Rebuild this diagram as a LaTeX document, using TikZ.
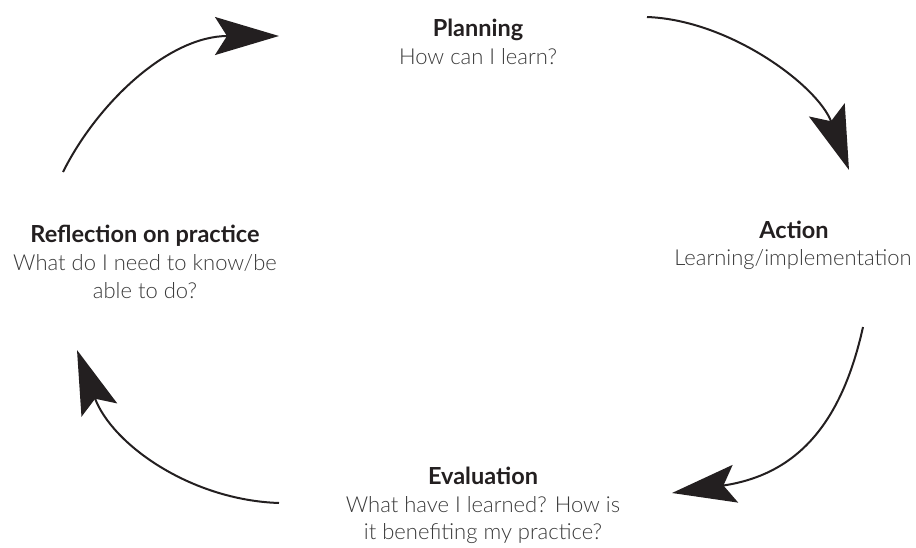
\documentclass[tikz,border=0pt]{standalone}
\usepackage{fontspec}
\setmainfont{Lato}
\newfontfamily\bodyfont{Lato Light}
\usetikzlibrary{arrows.meta}
\definecolor{ink}{HTML}{231F20}
\definecolor{bodyink}{HTML}{3A3A3A}
\tikzset{
  title/.style={anchor=base, inner sep=0pt, text=ink, font=\bfseries\fontsize{23.5}{28}\selectfont},
  body/.style={anchor=base, inner sep=0pt, text=bodyink, font=\bodyfont\fontsize{22}{26}\selectfont},
  cyc/.style={draw=ink, line width=2pt, -{Stealth[length=64pt, width=38pt, inset=12pt, fill=ink]}}
}
\begin{document}
\begin{tikzpicture}[x=1pt, y=-1pt]
\useasboundingbox (0,0) rectangle (916,547);
% texts
\node[title] (plan) at (478,36) {Planning};
\node[body] (planq) at (478,64) {How can I learn?};
\node[title] (act) at (794,238) {Action};
\node[body] (actq) at (793,265) {Learning/implementation};
\node[title] (eval) at (483,484) {Evaluation};
\node[body] (evalq1) at (483,512) {What have I learned? How is};
\node[body] (evalq2) at (483,539) {it benefiting my practice?};
\node[title] (refl) at (145,242) {Reflection on practice};
\node[body] (reflq1) at (145,270) {What do I need to know/be};
\node[body] (reflq2) at (145,298) {able to do?};
% connector end points
\coordinate (a1s) at (63,172);  \coordinate (a1e) at (279,36);
\coordinate (a2s) at (647,17);  \coordinate (a2e) at (849,170);
\coordinate (a3s) at (863,327); \coordinate (a3e) at (672,493);
\coordinate (a4s) at (279,503); \coordinate (a4e) at (77,350);
\draw[cyc] (a1s) .. controls (98,102) and (169,36) .. (a1e);
\draw[cyc] (a2s) .. controls (730,20) and (818,86) .. (a2e);
\draw[cyc] (a3s) .. controls (843,417) and (802,474) .. (a3e);
\draw[cyc] (a4s) .. controls (190,500) and (112,444) .. (a4e);
\end{tikzpicture}
\end{document}
